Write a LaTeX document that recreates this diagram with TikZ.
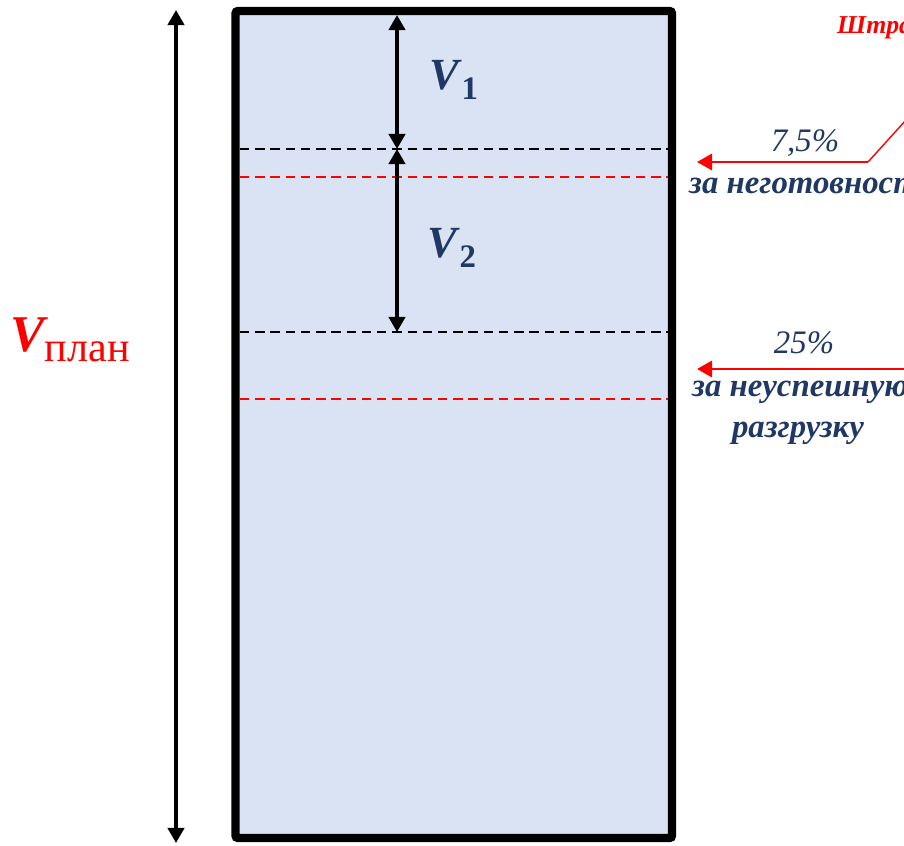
\documentclass[tikz,border=0pt]{standalone}
\usepackage{fontspec}
\setmainfont{Liberation Serif}
\usetikzlibrary{arrows.meta,positioning}
\definecolor{boxfill}{HTML}{DAE3F3}
\definecolor{navy}{HTML}{203864}
\newcommand{\fsz}[1]{\fontsize{#1}{#1}\selectfont}

\begin{document}
\begin{tikzpicture}[x=0.03cm,y=-0.03cm,>={Triangle[width=14pt,length=13pt]},
 dimline/.style={<->,line width=3pt},
 level/.style={line width=2pt,dash pattern=on 8pt off 5pt},
 fine/.style={->,red,line width=2.5pt},
 vlabel/.style={navy,inner sep=0pt},
 note/.style={navy,inner sep=0pt,font=\fsz{28}\itshape},
 desc/.style={note,font=\fsz{28}\bfseries\itshape}]
\useasboundingbox (0,0) rectangle (904,845);
\clip (0,0) rectangle (904,845);
% tank
\draw[line width=7pt,fill=boxfill,rounded corners=2pt] (235.5,11) rectangle (672,838);
\coordinate (lt) at (240,149); \coordinate (rt) at (668,149);
\draw[level] (lt) -- (rt);
\draw[level,red] (240,177) -- (668,177);
\draw[level] (240,332) -- (668,332);
\draw[level,red] (240,399) -- (668,399);
% volumes
\coordinate (vtop) at (397,15);
\coordinate (vmid) at (397,149);
\coordinate (vbot) at (397,332);
\draw[dimline] (vtop) -- (vmid);
\draw[dimline] (vmid) -- (vbot);
\node[vlabel] (v1) at (454,80) {{\fsz{38}\bfseries\itshape V}\,\raisebox{-8pt}{\fsz{28}\bfseries 1}};
\node[vlabel] (v2) at (452,248) {{\fsz{38}\bfseries\itshape V}\,\raisebox{-8pt}{\fsz{28}\bfseries 2}};
\coordinate (ptop) at (176,10);
\coordinate (pbot) at (176,843);
\draw[dimline] (ptop) -- (pbot);
\node[red,inner sep=0pt] (vplan) at (70,340)
 {{\fsz{44}\bfseries\itshape V}\raisebox{-9pt}{\fsz{36}план}};
% fines
\node[red,inner sep=0pt,anchor=west,font=\fsz{22}\bfseries\itshape] (fine) at (837,27) {Штрафы};
\coordinate (bend) at (868,162);
\coordinate (kink) at (925,99);
\coordinate (tipa) at (697,162);
\draw[red,line width=1.2pt] (bend) -- (kink);
\draw[fine] (bend) -- (tipa);
\node[note] (pa) at (805,143) {7,5\%};
\node[desc,anchor=west] (na) at (689,186) {за неготовность};
\coordinate (enda) at (915,369);
\coordinate (tipb) at (697,369);
\draw[fine] (enda) -- (tipb);
\node[note] (pb) at (804,343) {25\%};
\node[desc,anchor=west] (nb) at (692,392) {за неуспешную};
\node[desc,below=16pt of nb.south west,anchor=north west,xshift=34pt] (nc) {разгрузку};
\end{tikzpicture}
\end{document}
